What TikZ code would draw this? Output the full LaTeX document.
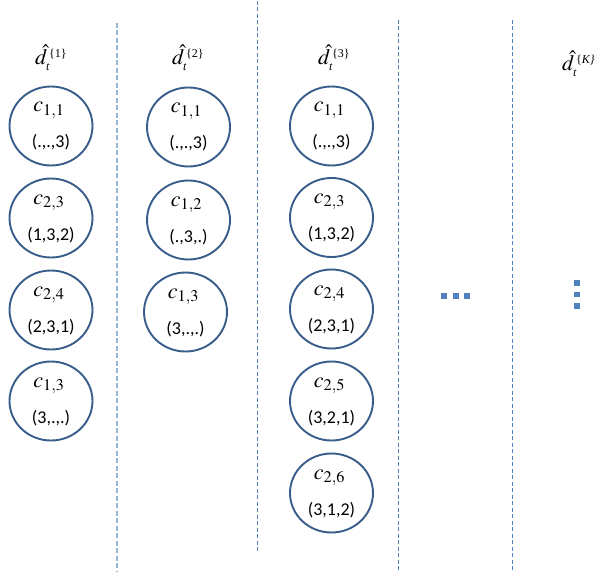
\documentclass[tikz,border=0pt]{standalone}
\usepackage{mathptmx}
\usepackage{fontspec}
\setmainfont{Liberation Serif}
\newfontfamily\tuplefont{Carlito}
\usetikzlibrary{shapes.geometric}

\definecolor{ringblue}{RGB}{56,93,138}
\definecolor{sepblue}{RGB}{79,129,189}
\definecolor{sepbluelight}{RGB}{149,179,215}
\definecolor{dotblue}{RGB}{79,129,189}

\tikzset{
  cell/.style={ellipse, draw=ringblue, line width=1.9pt,
    minimum width=83pt, minimum height=79pt, inner sep=0pt},
  cname/.style={anchor=base, inner sep=0pt, font=\fontsize{22}{24}\selectfont},
  ctuple/.style={anchor=base, inner sep=0pt, font=\tuplefont\fontsize{18}{20}\selectfont},
  sepline/.style={draw=sepblue, line width=1pt, dash pattern=on 4pt off 2.5pt},
  seplinewide/.style={draw=sepbluelight, line width=1.6pt, dash pattern=on 5pt off 2.5pt},
  head/.style={anchor=base west, inner sep=0pt, font=\fontsize{22}{24}\selectfont},
  dotsq/.style={fill=dotblue, minimum size=5.5pt, inner sep=0pt},
}

% one candidate: ring, its name c_{i,j} and its tuple
\newcommand\cellnode[5]{%
  \node[cell] (#1) at (#2,#3) {};
  \node[cname] (#1-name) at ([xshift=-2pt,yshift=14pt]#1.center) {$c_{#4}$};
  \node[ctuple] (#1-tuple) at ([yshift=-22pt]#1.center) {#5};
}

% small text used for the heading indices
\newcommand\idx[1]{\mbox{\fontsize{12}{12}\selectfont #1}}
% column heading \hat d_t^{\{k\}}
\newcommand\headtext[1]{$\hat{d}_{\idx{\itshape t}}^{\,\idx{\{#1\}}}$}

\begin{document}
\begin{tikzpicture}[x=1pt, y=-1pt]
  \useasboundingbox (0,0) rectangle (596,572);

  % separators
  \draw[seplinewide] (117,23) -- (117,572);
  \draw[sepline] (257,1) -- (257,553);
  \draw[sepline] (398,20) -- (398,572);
  \draw[sepline] (512,20) -- (512,572);

  % headings
  \node[head] (h1) at (35,65) {\headtext{1}};
  \node[head] (h2) at (172,65) {\headtext{2}};
  \node[head] (h3) at (318,65) {\headtext{3}};
  \node[head] (hK) at (562,71) {\headtext{\itshape K}};

  % column 1
  \cellnode{a1}{51}{126}{1,1}{(.,.,3)}
  \cellnode{a2}{51}{218}{2,3}{(1,3,2)}
  \cellnode{a3}{51}{310}{2,4}{(2,3,1)}
  \cellnode{a4}{51}{401}{1,3}{(3,.,.)}

  % column 2
  \cellnode{b1}{188.5}{127}{1,1}{(.,.,3)}
  \cellnode{b2}{188.5}{220}{1,2}{(.,3,.)}
  \cellnode{b3}{185.5}{312}{1,3}{(3,.,.)}

  % column 3
  \cellnode{c1}{331.5}{126}{1,1}{(.,.,3)}
  \cellnode{c2}{331.5}{217.5}{2,3}{(1,3,2)}
  \cellnode{c3}{331.5}{309}{2,4}{(2,3,1)}
  \cellnode{c4}{331.5}{401}{2,5}{(3,2,1)}
  \cellnode{c5}{331.5}{493}{2,6}{(3,1,2)}

  % ellipses
  \node[dotsq] (hd1) at (444,296) {};
  \node[dotsq] (hd2) at (456,296) {};
  \node[dotsq] (hd3) at (467,296) {};
  \node[dotsq] (vd1) at (577,283) {};
  \node[dotsq] (vd2) at (577,294.5) {};
  \node[dotsq] (vd3) at (577,306) {};
\end{tikzpicture}
\end{document}
